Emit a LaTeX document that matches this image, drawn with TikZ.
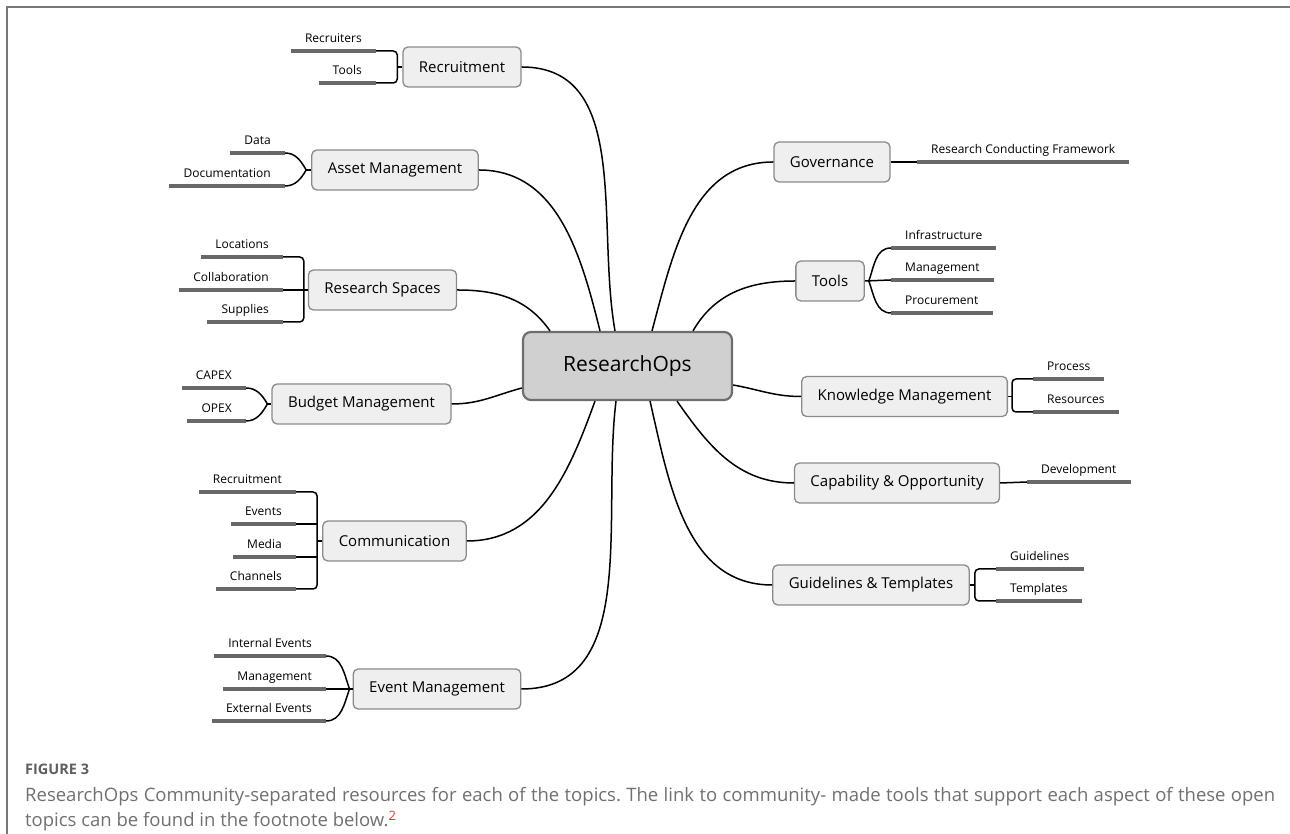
\documentclass[tikz,border=0pt]{standalone}
\usepackage{fontspec}
\setmainfont{Open Sans}
\usetikzlibrary{positioning}
\frenchspacing
\definecolor{boxfill}{RGB}{239,239,239}
\definecolor{boxline}{RGB}{138,138,138}
\definecolor{hubfill}{RGB}{208,208,208}
\definecolor{hubline}{RGB}{110,110,110}
\definecolor{leafline}{RGB}{104,104,104}
\definecolor{framegray}{RGB}{120,120,120}
\definecolor{figgray}{RGB}{95,95,95}
\definecolor{captiongray}{RGB}{112,112,112}
\definecolor{notered}{RGB}{224,52,52}

\tikzset{
  hub/.style={draw=hubline, fill=hubfill, line width=2.2pt, rounded corners=8pt,
    minimum width=209pt, minimum height=68pt, font=\fontsize{21}{25}\selectfont},
  topic/.style={draw=boxline, fill=boxfill, line width=1.3pt, rounded corners=5pt,
    inner xsep=16pt, minimum height=40pt, font=\fontsize{15}{18}\selectfont},
  leaf/.style={inner xsep=14pt, inner ysep=5pt, text height=9pt, text depth=3pt,
    font=\fontsize{12}{14}\selectfont,
    append after command={(\tikzlastnode.south west) edge[underline] (\tikzlastnode.south east)}},
  leafL/.style={leaf, anchor=south east},
  leafR/.style={leaf, anchor=south west},
  underline/.style={draw=leafline, line width=4pt},
  link/.style={draw=black, line width=1.5pt},
  bracket/.style={link, rounded corners=4pt},
}

\begin{document}
\begin{tikzpicture}[x=1pt, y=1pt]
  \useasboundingbox (0,0) rectangle (1290,834);
  % Frame
  \draw[framegray, line width=1.2pt] (7,0) |- (1290,827);

  % Centre
  \node[hub] (ops) at (627.5,468) {ResearchOps};

  % Left topics
  \node[topic] (recruit) at (462,767) {Recruitment};
  \node[topic] (asset) at (395,664) {Asset Management};
  \node[topic] (spaces) at (382.5,544) {Research Spaces};
  \node[topic] (budget) at (361.5,430) {Budget Management};
  \node[topic] (comm) at (394.5,293) {Communication};
  \node[topic] (event) at (437,145) {Event Management};

  % Right topics
  \node[topic] (gov) at (832,672) {Governance};
  \node[topic] (tools) at (830,553) {Tools};
  \node[topic] (know) at (904.5,437.5) {Knowledge Management};
  \node[topic] (capab) at (897,351) {Capability \& Opportunity};
  \node[topic] (guide) at (871,249) {Guidelines \& Templates};

  % Left leaves
  \node[leafL] (recruit-a) at (376,783) {Recruiters};
  \node[leafL] (recruit-b) at (376,751) {Tools};
  \node[leafL] (asset-a) at (285,681) {Data};
  \node[leafL] (asset-b) at (285,648) {Documentation};
  \node[leafL] (spaces-a) at (283,577) {Locations};
  \node[leafL] (spaces-b) at (283,544) {Collaboration};
  \node[leafL] (spaces-c) at (283,512) {Supplies};
  \node[leafL] (budget-a) at (246,446) {CAPEX};
  \node[leafL] (budget-b) at (246,413) {OPEX};
  \node[leafL] (comm-a) at (296,342) {Recruitment};
  \node[leafL] (comm-b) at (296,310) {Events};
  \node[leafL] (comm-c) at (296,277) {Media};
  \node[leafL] (comm-d) at (296,245) {Channels};
  \node[leafL] (event-a) at (326,178) {Internal Events};
  \node[leafL] (event-b) at (326,145) {Management};
  \node[leafL] (event-c) at (326,113) {External Events};

  % Right leaves
  \node[leafR] (gov-a) at (917,672) {Research Conducting Framework};
  \node[leafR] (tools-a) at (891,586) {Infrastructure};
  \node[leafR] (tools-b) at (891,554) {Management};
  \node[leafR] (tools-c) at (891,521) {Procurement};
  \node[leafR] (know-a) at (1033,455) {Process};
  \node[leafR] (know-b) at (1033,422) {Resources};
  \node[leafR] (capab-a) at (1027,352) {Development};
  \node[leafR] (guide-a) at (996,265) {Guidelines};
  \node[leafR] (guide-b) at (996,233) {Templates};

  % Links to the centre
  \draw[link] (recruit.east) to[out=0, in=100] ([xshift=-12.5pt]ops.north);
  \draw[link] (asset.east) to[out=0, in=104] ([xshift=-27.5pt]ops.north);
  \draw[link] (spaces.east) to[out=0, in=125] ([xshift=-77.5pt]ops.north);
  \draw[link] (budget.east) to[out=0, in=195] ([yshift=-22pt]ops.west);
  \draw[link] (comm.east) to[out=0, in=-110] ([xshift=-32.5pt]ops.south);
  \draw[link] (event.east) to[out=0, in=-97] ([xshift=-11.5pt]ops.south);
  \draw[link] (gov.west) to[out=180, in=75] ([xshift=24.5pt]ops.north);
  \draw[link] (tools.west) to[out=180, in=60] ([xshift=65.5pt]ops.north);
  \draw[link] (know.west) to[out=180, in=-10] ([yshift=-19pt]ops.east);
  \draw[link] (capab.west) to[out=180, in=-55] ([xshift=49.5pt]ops.south);
  \draw[link] (guide.west) to[out=180, in=-77] ([xshift=22.5pt]ops.south);

  % Brackets
  \coordinate (recruit-spine) at ([xshift=-5pt]recruit.west);
  \draw[bracket] (recruit-a.south east) -| (recruit-spine) |- (recruit-b.south east);
  \draw[link] (recruit-spine) -- (recruit.west);

  \coordinate (spaces-spine) at ([xshift=-4pt]spaces.west);
  \draw[bracket] (spaces-a.south east) -| (spaces-spine) |- (spaces-c.south east);
  \draw[link] (spaces-b.south east) -- (spaces.west);

  \coordinate (comm-spine) at ([xshift=-5pt]comm.west);
  \draw[bracket] (comm-a.south east) -| (comm-spine) |- (comm-d.south east);
  \draw[link] (comm-b.south east) -- (comm-b.south east -| comm-spine);
  \draw[link] (comm-c.south east) -- (comm-c.south east -| comm-spine);
  \draw[link] (comm-spine) -- (comm.west);

  \coordinate (know-spine) at ([xshift=4pt]know.east);
  \draw[bracket] (know-a.south west) -| (know-spine) |- (know-b.south west);
  \draw[link] (know-spine) -- (know.east);

  \coordinate (guide-spine) at ([xshift=5pt]guide.east);
  \draw[bracket] (guide-a.south west) -| (guide-spine) |- (guide-b.south west);
  \draw[link] (guide-spine) -- (guide.east);

  % Forks
  \coordinate (asset-fork) at ([xshift=-5pt]asset.west);
  \draw[link] (asset-a.south east) to[out=0, in=120] (asset-fork);
  \draw[link] (asset-b.south east) to[out=0, in=240] (asset-fork);
  \draw[link] (asset-fork) -- (asset.west);

  \coordinate (budget-fork) at ([xshift=-4pt]budget.west);
  \draw[link] (budget-a.south east) to[out=0, in=120] (budget-fork);
  \draw[link] (budget-b.south east) to[out=0, in=240] (budget-fork);
  \draw[link] (budget-fork) -- (budget.west);

  \coordinate (event-fork) at ([xshift=-3pt]event.west);
  \draw[link] (event-a.south east) to[out=0, in=110] (event-fork);
  \draw[link] (event-b.south east) -- (event.west);
  \draw[link] (event-c.south east) to[out=0, in=250] (event-fork);

  \coordinate (tools-fork) at ([xshift=4pt]tools.east);
  \draw[link] (tools-a.south west) to[out=180, in=70] (tools-fork);
  \draw[link] (tools-b.south west) -- (tools.east);
  \draw[link] (tools-c.south west) to[out=180, in=-70] (tools-fork);

  % Straight leaves
  \draw[link] (gov.east) -- (gov-a.south west);
  \draw[link] (capab.east) -- (capab-a.south west);

  % Caption
  \node[anchor=west, inner sep=0pt, text=figgray, font=\bfseries\fontsize{14.5}{17}\selectfont]
    (fig) at (25,65) {FIGURE 3};
  \node[anchor=north west, inner sep=0pt, align=left, text=captiongray,
    font=\fontsize{18.5}{25}\selectfont] (cap) at (25,47)
    {\makebox[1250pt][s]{ResearchOps Community-separated resources for each of the topics. The link to community- made tools that support each aspect of these open}\\
     topics can be found in the footnote below.\textsuperscript{\color{notered}2}};
\end{tikzpicture}
\end{document}
